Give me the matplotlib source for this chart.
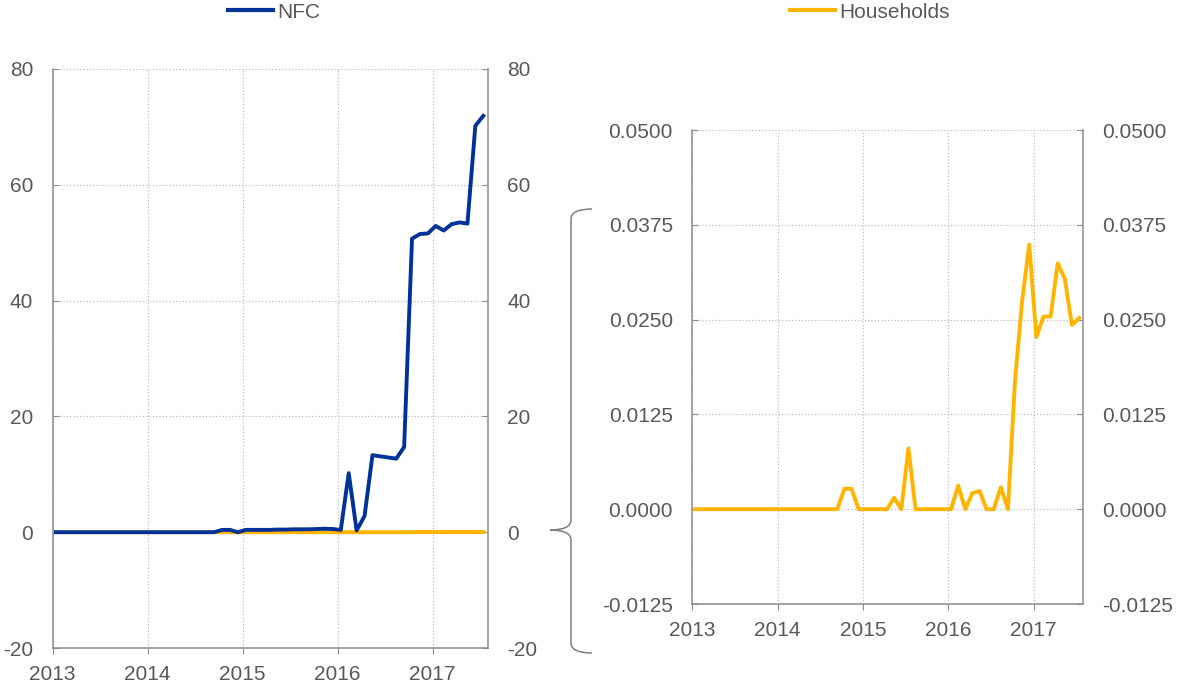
import numpy as np
import matplotlib
matplotlib.use('Agg')
from matplotlib import pyplot as plt
from matplotlib.lines import Line2D
from matplotlib.path import Path
from matplotlib.patches import PathPatch

plt.rcParams['font.family'] = ['Liberation Sans', 'DejaVu Sans']
plt.rcParams['axes.unicode_minus'] = False

# monthly observations, Jan 2013 - Jul 2017
n_months = 55
years = [2013, 2014, 2015, 2016, 2017]

nfc = [0.0] * 21 + [
    0.4, 0.4, 0.0, 0.4, 0.4, 0.4, 0.4, 0.45, 0.45, 0.5,
    0.5, 0.5, 0.55, 0.6, 0.55, 0.4, 10.2, 0.3, 2.8, 13.3,
    13.1, 12.9, 12.7, 14.7, 50.7, 51.5, 51.6, 52.9, 52.1, 53.2,
    53.5, 53.3, 70.2, 71.9]

households = [0.0] * 21 + [
    0.0027, 0.0027, 0.0, 0.0, 0.0, 0.0, 0.0, 0.0015, 0.0, 0.0080,
    0.0, 0.0, 0.0, 0.0, 0.0, 0.0, 0.0031, 0.0, 0.0021, 0.0024,
    0.0, 0.0, 0.0029, 0.0, 0.0170, 0.0275, 0.0349, 0.0227, 0.0254, 0.0254,
    0.0324, 0.0304, 0.0243, 0.0252]

left_ticks = [-20, 0, 20, 40, 60, 80]
right_ticks = [-0.0125, 0.0, 0.0125, 0.0250, 0.0375, 0.0500]

# x position: mid-month as fraction of year
x = 2013 + (np.arange(n_months) + 0.4) / 12

blue = '#003299'
yellow = '#FFB400'
txt = '#595959'
spine_col = '#8c8c8c'
W, H = 1177, 684
lw = 2.8

fig = plt.figure(figsize=(W / 100, H / 100), dpi=100)

def px(xp, yp):
    return (xp / W, 1 - yp / H)

def style(ax):
    for s in ['left', 'right', 'bottom']:
        ax.spines[s].set_color(spine_col)
        ax.spines[s].set_linewidth(1.1)
    ax.spines['top'].set_visible(False)
    ax.grid(True, linestyle=':', color='#bdbdbd', linewidth=0.9)
    ax.set_axisbelow(True)
    ax.tick_params(axis='y', left=True, right=True, labelleft=True, labelright=True,
                   direction='in', length=4.5, pad=14, colors=spine_col,
                   labelcolor=txt, labelsize=15)
    ax.tick_params(axis='x', direction='out', length=4, pad=8, colors=spine_col,
                   labelcolor=txt, labelsize=15)
    ax.set_xticks(years)
    ax.set_xticklabels([str(y) for y in years])
    ax.set_xlim(2013, 2017.58)

# left panel
ax1 = fig.add_axes([52.7 / W, 1 - 648 / H, 435 / W, (648 - 69) / H])
ax1.plot(x, households, color=yellow, linewidth=lw)
ax1.plot(x, nfc, color=blue, linewidth=lw)
style(ax1)
ax1.set_ylim(-20, 80)
ax1.set_yticks(left_ticks)

# right panel
ax2 = fig.add_axes([692.3 / W, 1 - 604 / H, 390.7 / W, (604 - 130) / H])
ax2.plot(x, households, color=yellow, linewidth=lw)
style(ax2)
ax2.set_ylim(-0.0125, 0.05)
ax2.set_yticks(right_ticks)
ax2.set_yticklabels(['%.4f' % v for v in right_ticks])

# legends above each panel
for col, lab, xp in [(blue, 'NFC', 228), (yellow, 'Households', 790)]:
    fig.legend(handles=[Line2D([], [], color=col, linewidth=3)], labels=[lab],
               loc='center left', bbox_to_anchor=px(xp, 12), frameon=False,
               borderpad=0, borderaxespad=0, handlelength=2.15,
               handletextpad=0.2, fontsize=15, labelcolor=txt)

# curly bracket linking zero of left axis to right panel
xv, xt, xh = 571, 550, 592
yt, yc, yb = 209, 530, 653
r = 10
pts = [px(xh, yt), px(xv, yt), px(xv, yt + r),
       px(xv, yc - r), px(xv, yc), px(xt, yc),
       px(xv, yc), px(xv, yc + r),
       px(xv, yb - r), px(xv, yb), px(xh, yb)]
codes = [Path.MOVETO, Path.CURVE3, Path.CURVE3,
         Path.LINETO, Path.CURVE3, Path.CURVE3,
         Path.CURVE3, Path.CURVE3,
         Path.LINETO, Path.CURVE3, Path.CURVE3]
fig.patches.append(PathPatch(Path(pts, codes), transform=fig.transFigure,
                             fill=False, edgecolor='#7f7f7f', linewidth=1.1))

fig.savefig('out.png', dpi=100)
